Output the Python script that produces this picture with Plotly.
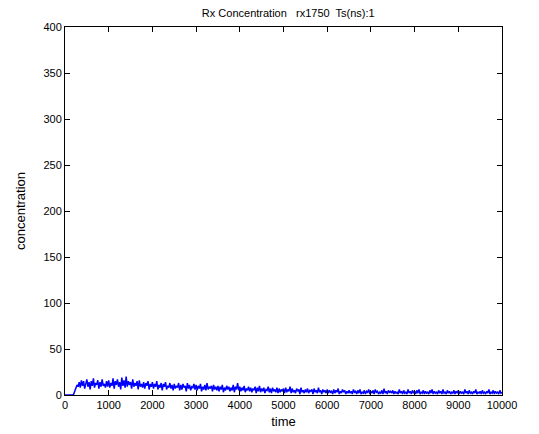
import plotly.graph_objects as go

time = list(range(0, 10001, 25))
conc = [
    0, 0, 0, 0, 0, 0, 0, 0, 1, 4, 7, 11, 9, 14, 8, 16, 10, 15, 7, 13,
    17, 9, 14, 6, 15, 10, 18, 8, 13, 11, 16, 7, 14, 9, 17, 10, 12, 8, 15, 9,
    16, 8, 13, 10, 18, 7, 15, 11, 17, 9, 14, 6, 19, 10, 16, 8, 20, 9, 15, 11,
    14, 7, 17, 9, 13, 10, 15, 6, 16, 9, 12, 8, 14, 7, 13, 10, 15, 6, 12, 9,
    14, 7, 12, 9, 15, 6, 11, 8, 13, 5, 12, 9, 14, 6, 10, 8, 13, 7, 11, 5,
    12, 7, 10, 8, 13, 5, 11, 6, 12, 8, 10, 4, 13, 7, 11, 5, 9, 8, 12, 6,
    11, 5, 10, 7, 12, 4, 9, 6, 11, 5, 13, 6, 9, 7, 10, 4, 11, 6, 9, 5,
    10, 4, 9, 6, 11, 3, 8, 5, 10, 6, 9, 4, 8, 5, 11, 3, 9, 6, 13, 5,
    9, 4, 8, 5, 10, 3, 7, 5, 9, 4, 8, 3, 7, 5, 9, 2, 8, 4, 10, 3,
    7, 4, 8, 2, 6, 5, 9, 3, 7, 2, 8, 4, 6, 3, 8, 2, 7, 3, 6, 4,
    7, 2, 8, 3, 6, 4, 9, 2, 7, 3, 5, 2, 7, 4, 6, 1, 8, 3, 5, 2,
    6, 3, 7, 2, 5, 4, 6, 1, 7, 3, 5, 2, 8, 3, 5, 1, 6, 3, 5, 2,
    6, 2, 5, 3, 4, 1, 6, 2, 5, 3, 7, 1, 4, 2, 6, 3, 5, 1, 4, 2,
    5, 2, 4, 1, 6, 3, 4, 1, 5, 2, 6, 1, 3, 2, 5, 1, 4, 3, 6, 1,
    4, 2, 5, 1, 6, 3, 4, 1, 3, 2, 5, 1, 7, 2, 4, 1, 5, 3, 4, 2,
    5, 1, 4, 2, 3, 1, 6, 2, 4, 1, 5, 2, 3, 1, 6, 2, 4, 1, 5, 2,
    4, 1, 5, 2, 6, 1, 3, 2, 5, 1, 4, 2, 3, 1, 5, 2, 6, 1, 4, 2,
    3, 1, 5, 2, 4, 1, 6, 2, 3, 1, 5, 2, 4, 1, 3, 2, 5, 1, 4, 2,
    5, 1, 4, 2, 3, 1, 6, 2, 4, 1, 5, 2, 3, 1, 4, 2, 6, 1, 3, 2,
    4, 1, 5, 2, 3, 1, 4, 2, 6, 1, 3, 2, 5, 1, 4, 2, 3, 1, 5, 2,
    3,
]

x_ticks = list(range(0, 10001, 1000))
x_labels = [str(v) for v in x_ticks]
y_ticks = list(range(0, 401, 50))

fig = go.Figure(go.Scatter(x=time, y=conc, mode="lines",
                           line=dict(color="#0000ff", width=1.5)))

axis_common = dict(showgrid=False, zeroline=False, showline=True, linecolor="black",
                   linewidth=1, mirror="ticks", ticks="inside", ticklen=5,
                   tickcolor="black", tickfont=dict(size=11, color="black"))

fig.update_layout(
    width=539, height=434,
    margin=dict(l=54, r=45, t=19, b=47),
    paper_bgcolor="white", plot_bgcolor="white",
    font=dict(family="Liberation Sans, Arial, sans-serif", size=11, color="black"),
    showlegend=False,
    title=dict(text="Rx Concentration   rx1750  Ts(ns):1", x=0.52, xanchor="center",
               y=1.0, yanchor="top", pad=dict(t=1), font=dict(size=11)),
    xaxis=dict(range=[0, 10000], tickvals=x_ticks, ticktext=x_labels,
               title=dict(text="time", standoff=6), **axis_common),
    yaxis=dict(range=[0, 400], tickvals=y_ticks,
               title=dict(text="concentration", standoff=14), **axis_common),
)

fig.write_html("out.html")
